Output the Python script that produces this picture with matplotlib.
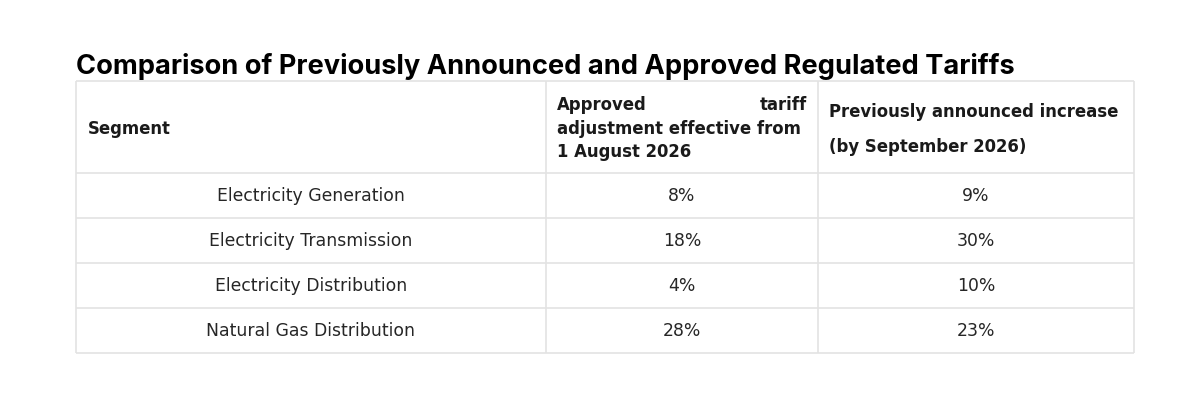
import matplotlib.pyplot as plt

title = "Comparison of Previously Announced and Approved Regulated Tariffs"
segments = ["Electricity Generation", "Electricity Transmission",
            "Electricity Distribution", "Natural Gas Distribution"]
approved = [8, 18, 4, 28]
announced = [9, 30, 10, 23]

# layout in pixels
col_x = [76, 546, 818, 1134]
header_top, header_bot = 82, 174
row_h = 45
line_col = "#e3e3e3"
txt_col = "#1a1a1a"
title_fam = ["Inter", "DejaVu Sans"]
fam = ["DejaVu Sans"]

fig = plt.figure(figsize=(12, 4.02), dpi=100)
ax = fig.add_axes([0, 0, 1, 1])
ax.set_xlim(0, 1200)
ax.set_ylim(402, 0)
ax.axis("off")

ax.text(col_x[0], 66, title, fontsize=19.6, fontweight="bold", color="black",
        family=title_fam, va="center", ha="left")

n = len(segments)
bottom = header_bot + n * row_h
# grid lines
ys = [header_top, header_bot] + [header_bot + (i + 1) * row_h for i in range(n)]
for y in ys:
    ax.plot([col_x[0], col_x[-1]], [y, y], color=line_col, lw=1.2, solid_capstyle="butt")
for x in col_x:
    ax.plot([x, x], [header_top, bottom], color=line_col, lw=1.2, solid_capstyle="butt")

# header
hkw = dict(fontsize=11.9, fontweight="bold", color=txt_col, family=fam, va="center")
ax.text(col_x[0] + 12, 129, "Segment", ha="left", **hkw)
ax.text(col_x[1] + 11, 105, "Approved", ha="left", **hkw)
ax.text(col_x[2] - 11, 105, "tariff", ha="right", **hkw)
ax.text(col_x[1] + 11, 129, "adjustment effective from", ha="left", **hkw)
ax.text(col_x[1] + 11, 152, "1 August 2026", ha="left", **hkw)
ax.text(col_x[2] + 11, 112, "Previously announced increase", ha="left", **hkw)
ax.text(col_x[2] + 11, 147, "(by September 2026)", ha="left", **hkw)

# body
bkw = dict(fontsize=12.4, color="#262626", family=fam, va="center", ha="center")
for i, (s, a, p) in enumerate(zip(segments, approved, announced)):
    yc = header_bot + (i + 0.5) * row_h
    ax.text((col_x[0] + col_x[1]) / 2, yc, s, **bkw)
    ax.text((col_x[1] + col_x[2]) / 2, yc, f"{a}%", **bkw)
    ax.text((col_x[2] + col_x[3]) / 2, yc, f"{p}%", **bkw)

fig.savefig("out.png", dpi=100, facecolor="white")
